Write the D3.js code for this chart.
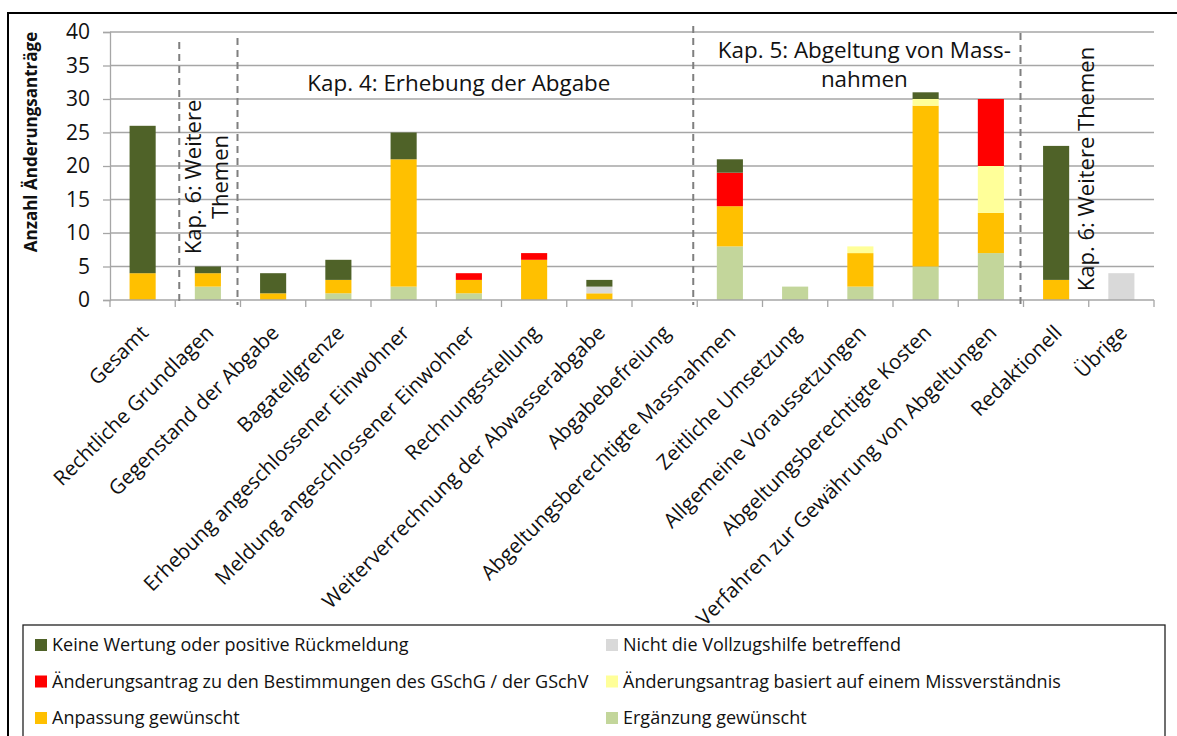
<!DOCTYPE html>
<html>
<head>
<meta charset="utf-8">
<script src="https://cdnjs.cloudflare.com/ajax/libs/d3/7.8.5/d3.min.js"></script>
<style>
  body { margin: 0; background: #fff; }
  text { font-family: "Open Sans", "Noto Sans", sans-serif; fill: #111; }
</style>
</head>
<body>
<div id="chart"></div>
<script>
// categories along the x axis
var categories = [
  "Gesamt", "Rechtliche Grundlagen", "Gegenstand der Abgabe", "Bagatellgrenze",
  "Erhebung angeschlossener Einwohner", "Meldung angeschlossener Einwohner",
  "Rechnungsstellung", "Weiterverrechnung der Abwasserabgabe", "Abgabebefreiung",
  "Abgeltungsberechtigte Massnahmen", "Zeitliche Umsetzung", "Allgemeine Voraussetzungen",
  "Abgeltungsberechtigte Kosten", "Verfahren zur Gewährung von Abgeltungen",
  "Redaktionell", "Übrige"
];

// series values, stacked bottom to top
var ergaenzung         = [0, 2, 0, 1, 2, 1, 0, 0, 0, 8, 2, 2, 5, 7, 0, 0];
var anpassung          = [4, 2, 1, 2, 19, 2, 6, 1, 0, 6, 0, 5, 24, 6, 3, 0];
var missverstaendnis   = [0, 0, 0, 0, 0, 0, 0, 0, 0, 0, 0, 1, 1, 7, 0, 0];
var aenderungGSchG     = [0, 0, 0, 0, 0, 1, 1, 0, 0, 5, 0, 0, 0, 10, 0, 0];
var nichtVollzugshilfe = [0, 0, 0, 0, 0, 0, 0, 1, 0, 0, 0, 0, 0, 0, 0, 4];
var keineWertung       = [22, 1, 3, 3, 4, 0, 0, 1, 0, 2, 0, 0, 1, 0, 20, 0];

var yTicks = [0, 5, 10, 15, 20, 25, 30, 35, 40];

// chapter sections: index of first category after a dashed divider
var sectionBreaks = [1, 2, 9, 14];

var seriesNames = [
  "Ergänzung gewünscht",
  "Anpassung gewünscht",
  "Änderungsantrag basiert auf einem Missverständnis",
  "Änderungsantrag zu den Bestimmungen des GSchG / der GSchV",
  "Nicht die Vollzugshilfe betreffend",
  "Keine Wertung oder positive Rückmeldung"
];
var seriesValues = [ergaenzung, anpassung, missverstaendnis, aenderungGSchG, nichtVollzugshilfe, keineWertung];
var seriesColors = ["#C3D69B", "#FFC000", "#FFFF99", "#FF0000", "#D9D9D9", "#4F6228"];

// legend order (two columns, three rows)
var legendOrder = [
  "Keine Wertung oder positive Rückmeldung",
  "Änderungsantrag zu den Bestimmungen des GSchG / der GSchV",
  "Anpassung gewünscht",
  "Nicht die Vollzugshilfe betreffend",
  "Änderungsantrag basiert auf einem Missverständnis",
  "Ergänzung gewünscht"
];

// build table for d3.stack
var table = categories.map(function(c, i) {
  var row = { category: c };
  seriesNames.forEach(function(s, k) { row[s] = seriesValues[k][i]; });
  return row;
});

var margin = {top: 32, right: 23, bottom: 436, left: 110},
    fullWidth = 1177, fullHeight = 736,
    width = fullWidth - margin.left - margin.right,
    height = fullHeight - margin.top - margin.bottom;

var color = d3.scaleOrdinal().domain(seriesNames).range(seriesColors);

var svgRoot = d3.select("#chart").append("svg")
    .attr("width", fullWidth)
    .attr("height", fullHeight);

// outer frame (right/bottom run off the picture)
svgRoot.append("rect")
    .attr("x", 8).attr("y", 13)
    .attr("width", fullWidth).attr("height", fullHeight)
    .attr("fill", "none").attr("stroke", "#000").attr("stroke-width", 2);

var svg = svgRoot.append("g")
    .attr("transform", "translate(" + margin.left + "," + margin.top + ")");

var x = d3.scaleBand()
    .domain(categories)
    .range([0, width])
    .paddingInner(0.6)
    .paddingOuter(0.3);

var y = d3.scaleLinear()
    .domain([0, 40])
    .range([height, 0]);

var gap = (x.step() - x.bandwidth()) / 2;
function boundary(i) {
  if (i < categories.length) return x(categories[i]) - gap;
  return x(categories[categories.length - 1]) + x.bandwidth() + gap;
}

// gridlines
svg.selectAll(".grid")
    .data(yTicks.filter(function(d) { return d > 0; }))
    .enter().append("line")
    .attr("x1", 0).attr("x2", width)
    .attr("y1", function(d) { return y(d); })
    .attr("y2", function(d) { return y(d); })
    .attr("stroke", "#a6a6a6").attr("stroke-width", 1.3);

// y axis
var yAxis = svg.append("g")
    .call(d3.axisLeft(y).tickValues(yTicks).tickSize(7).tickPadding(13));
yAxis.select(".domain").attr("stroke", "#a6a6a6").attr("stroke-width", 1.3);
yAxis.selectAll(".tick line").attr("stroke", "#a6a6a6").attr("stroke-width", 1.3);
yAxis.selectAll("text").attr("font-size", 21).attr("font-family", "Open Sans").attr("fill", "#111");

// stacked bars
var stacked = d3.stack().keys(seriesNames)(table);

svg.selectAll(".layer")
    .data(stacked)
    .enter().append("g")
    .attr("class", "layer")
    .attr("fill", function(d) { return color(d.key); })
    .selectAll("rect")
    .data(function(d) { return d; })
    .enter().append("rect")
    .attr("x", function(d) { return x(d.data.category); })
    .attr("width", x.bandwidth())
    .attr("y", function(d) { return y(d[1]); })
    .attr("height", function(d) { return y(d[0]) - y(d[1]); });

// x axis line and ticks
svg.append("line")
    .attr("x1", 0).attr("x2", width)
    .attr("y1", height).attr("y2", height)
    .attr("stroke", "#a6a6a6").attr("stroke-width", 1.3);

svg.selectAll(".xtick")
    .data(d3.range(categories.length + 1))
    .enter().append("line")
    .attr("x1", function(i) { return boundary(i); })
    .attr("x2", function(i) { return boundary(i); })
    .attr("y1", height).attr("y2", height + 7)
    .attr("stroke", "#a6a6a6").attr("stroke-width", 1.3);

// rotated category labels
svg.selectAll(".xlabel")
    .data(categories)
    .enter().append("text")
    .attr("text-anchor", "end")
    .attr("font-size", 20.5)
    .attr("transform", function(d) {
      return "translate(" + (x(d) + x.bandwidth() / 2 + 7) + "," + (height + 34) + ") rotate(-45)";
    })
    .text(function(d) { return d; });

// y axis title
svgRoot.append("text")
    .attr("transform", "translate(37," + 142 + ") rotate(-90)")
    .attr("text-anchor", "middle")
    .attr("font-size", 17)
    .attr("font-weight", "bold")
    .text("Anzahl Änderungsanträge");

// dashed chapter dividers (hand-placed in the original, slightly off the tick marks)
var dividerTops = [10, 6, -6, 1];
var dividerShift = [4, -3, -4, -3];
svg.selectAll(".divider")
    .data(sectionBreaks)
    .enter().append("line")
    .attr("x1", function(b, i) { return boundary(b) + dividerShift[i]; })
    .attr("x2", function(b, i) { return boundary(b) + dividerShift[i]; })
    .attr("y1", function(b, i) { return dividerTops[i]; })
    .attr("y2", height + 5)
    .attr("stroke", "#7f7f7f")
    .attr("stroke-width", 2)
    .attr("stroke-dasharray", "7,5");

// chapter annotations
var midA = (boundary(sectionBreaks[0]) + boundary(sectionBreaks[1])) / 2;
var kap6a = svg.append("text")
    .attr("transform", "translate(" + midA + "," + 145 + ") rotate(-90)")
    .attr("text-anchor", "middle")
    .attr("font-size", 22);
kap6a.append("tspan").attr("x", 0).attr("y", -6.5).text("Kap. 6: Weitere");
kap6a.append("tspan").attr("x", 0).attr("y", 20.5).text("Themen");

var midB = (boundary(sectionBreaks[1]) + boundary(sectionBreaks[2])) / 2;
svg.append("text")
    .attr("x", midB - 10).attr("y", 59)
    .attr("text-anchor", "middle")
    .attr("font-size", 22.4)
    .text("Kap. 4: Erhebung der Abgabe");

var midC = (boundary(sectionBreaks[2]) + boundary(sectionBreaks[3])) / 2;
svg.append("text")
    .attr("x", midC + 4).attr("y", 26)
    .attr("text-anchor", "middle")
    .attr("font-size", 22.4)
    .text("Kap. 5: Abgeltung von Mass-");
svg.append("text")
    .attr("x", midC + 4).attr("y", 55)
    .attr("text-anchor", "middle")
    .attr("font-size", 22.4)
    .text("nahmen");

var midD = (boundary(sectionBreaks[3]) + boundary(categories.length)) / 2;
svg.append("text")
    .attr("transform", "translate(" + (midD + 5) + "," + 137 + ") rotate(-90)")
    .attr("text-anchor", "middle")
    .attr("font-size", 22)
    .text("Kap. 6: Weitere Themen");

// legend
svgRoot.append("rect")
    .attr("x", 23).attr("y", 625)
    .attr("width", 1142).attr("height", 140)
    .attr("fill", "none").attr("stroke", "#222").attr("stroke-width", 1.3);

var legend = svgRoot.selectAll(".legend")
    .data(legendOrder)
    .enter().append("g")
    .attr("class", "legend")
    .attr("transform", function(d, i) {
      var col = Math.floor(i / 3), row = i % 3;
      return "translate(" + (35 + col * 571) + "," + (645 + row * 36.5) + ")";
    });

legend.append("rect")
    .attr("x", 0).attr("y", -6)
    .attr("width", 12).attr("height", 12)
    .attr("fill", function(d) { return color(d); });

legend.append("text")
    .attr("x", 17).attr("y", 6)
    .attr("font-size", 18)
    .text(function(d) { return d; });
</script>
</body>
</html>
